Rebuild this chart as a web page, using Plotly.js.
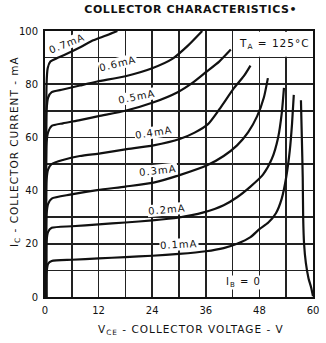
<!DOCTYPE html>
<html>
<head>
<meta charset="utf-8">
<script src="https://cdn.plot.ly/plotly-3.0.1.min.js"></script>
<style>
body{margin:0;background:#fff}
.annotation-text{letter-spacing:1px}
.gtitle{letter-spacing:0.6px}
</style>
</head>
<body>
<div id="chart" style="width:326px;height:343px"></div>
<script>
// Base current labels
const baseCurrents = ['0.7mA','0.6mA','0.5mA','0.4mA','0.3mA','0.2mA','0.1mA','IB = 0'];

// Collector voltage (V) and collector current (mA) for each base current
const v07 = [0.25,0.35,0.6,1.2,3,5.6,8,10.8,13.5,16.2];
const i07 = [0,80,86,88.5,90,92,94,96.5,98.2,100];

const v06 = [0.25,0.35,0.7,1.5,4,7.8,11.7,18,24,28.5,32,35.2];
const i06 = [0,70,75,77,78,79.5,81,83,86,89.5,94.5,100];

const v05 = [0.25,0.35,0.7,1.5,4,7.8,12,18,24,29.7,33,36,39,41.6];
const i05 = [0,58,62,64.3,65.3,66.5,68,70,73,77,80.5,84.5,88.5,93];

const v04 = [0.25,0.35,0.7,1.5,4,7.8,12.4,18,24.3,30.3,33.5,36.5,39,42.3,44.5,46];
const i04 = [0,44,48,50,51.5,53,54,55.5,57,59.5,61.8,65,70.5,78.5,83,87];

const v03 = [0.25,0.35,0.7,1.5,5.6,11.7,18,24.3,30.3,36.4,40,43,45.5,47.5,49,49.9];
const i03 = [0,31,35,37,38.5,40.2,41.5,43,45.9,49.6,53,57,62,68,75,82.3];

const v02 = [0.25,0.35,0.7,1.5,6,12,18,24,29.7,35.5,40,43,46,48.8,50.8,52.2,53,53.5];
const i02 = [0,21,24.5,26,26.6,27.3,28,28.8,29.8,31.8,34.5,37.5,41.5,46,52,60,69,78.6];

const v01 = [0.25,0.35,0.7,1.5,6,12,18,24,30,36,40,43,46,48,50,51.7,53,54,54.8,55.3,55.7];
const i01 = [0,9,12.5,13.5,14,14.5,15,15.5,16.2,17.2,18.4,20,22.5,25.5,28,31.5,37,45,55,65,76];

const v00 = [57.3,57.5,57.7,57.8,58.0,58.4,59.0,59.6,60];
const i00 = [74,60,45,30,20,12.8,7,3.5,0.3];

// Axis ticks (labelled) and grid positions
const xTicks = [0,12,24,36,48,60];
const yTicks = [0,20,40,60,80,100];
const xGrid = [0,6,12,18,24,30,36,42,48,54,60];
const yGrid = [0,10,20,30,40,50,60,70,80,90,100];

const series = [[v07,i07],[v06,i06],[v05,i05],[v04,i04],[v03,i03],[v02,i02],[v01,i01],[v00,i00]];

const traces = series.map((s,k)=>({
  x: s[0], y: s[1], name: baseCurrents[k],
  type:'scatter', mode:'lines',
  line:{color:'#111', width:2.2, shape:'spline', smoothing:0.6},
  hoverinfo:'skip'
}));

const lblFont = {family:'DejaVu Sans, sans-serif', size:10, color:'#111'};
function lbl(text,x,y,ang){
  return {text:text, x:x, y:y, xref:'x', yref:'y', showarrow:false,
    textangle:ang, font:lblFont, bgcolor:'#fff', borderpad:0};
}
const tickFont = {family:'DejaVu Sans, sans-serif', size:10, color:'#111'};

const layout = {
  width:326, height:343,
  margin:{l:45, r:13, t:31, b:46},
  paper_bgcolor:'#fff', plot_bgcolor:'#fff',
  showlegend:false,
  title:{text:'COLLECTOR CHARACTERISTICS•',
    font:{family:'DejaVu Sans, sans-serif', size:11, color:'#111', weight:'bold'},
    x:0.585, xref:'container', xanchor:'center',
    y:0.972, yref:'container', yanchor:'middle'},
  xaxis:{range:[0,60], tickmode:'array', tickvals:xGrid,
    ticktext:xGrid.map(v=>xTicks.includes(v)?String(v):''),
    showgrid:true, gridcolor:'#222', gridwidth:1.6,
    zeroline:false, showline:true, mirror:true, linecolor:'#111', linewidth:2,
    ticks:'', ticklabelstandoff:3, tickfont:tickFont, fixedrange:true},
  yaxis:{range:[0,100], tickmode:'array', tickvals:yGrid,
    ticktext:yGrid.map(v=>yTicks.includes(v)?String(v):''),
    showgrid:true, gridcolor:'#222', gridwidth:1.6,
    zeroline:false, showline:true, mirror:true, linecolor:'#111', linewidth:2,
    ticks:'', ticklabelstandoff:3, tickfont:tickFont, fixedrange:true},
  shapes:[
    {type:'rect', xref:'x', yref:'y', x0:42.2, x1:59.8, y0:90.3, y1:99.7,
     fillcolor:'#fff', line:{width:0}, layer:'between'}
  ],
  annotations:[
    lbl(baseCurrents[0], 4.9, 95.3, -22),
    lbl(baseCurrents[1], 16.4, 87.6, -14),
    lbl(baseCurrents[2], 20.7, 75.2, -11),
    lbl(baseCurrents[3], 24.3, 61.7, -9),
    lbl(baseCurrents[4], 25.2, 47.4, -6),
    lbl(baseCurrents[5], 27.4, 33.0, -5),
    lbl(baseCurrents[6], 29.9, 19.6, -3),
    {text:'I<sub>B</sub> = 0', x:44.5, y:5.5, xref:'x', yref:'y', showarrow:false,
     font:lblFont, bgcolor:'#fff', borderpad:0},
    {text:'T<sub>A</sub> = 125°C', x:51.4, y:95.2, xref:'x', yref:'y', showarrow:false,
     font:{family:'DejaVu Sans, sans-serif', size:10.5, color:'#111'}},
    {text:'V<sub>CE</sub> - COLLECTOR VOLTAGE - V', xref:'paper', yref:'paper',
     x:(191-45)/268, y:-(330-297)/266, showarrow:false, yanchor:'middle',
     font:{family:'DejaVu Sans, sans-serif', size:10.5, color:'#111'}},
    {text:'I<sub>C</sub> - COLLECTOR CURRENT - mA', xref:'paper', yref:'paper',
     x:-(45-15)/268, y:(297-152)/266, showarrow:false, textangle:-90,
     xanchor:'center', yanchor:'middle',
     font:{family:'DejaVu Sans, sans-serif', size:10.5, color:'#111'}}
  ]
};

Plotly.newPlot('chart', traces, layout, {staticPlot:true, displayModeBar:false});
</script>
</body>
</html>
